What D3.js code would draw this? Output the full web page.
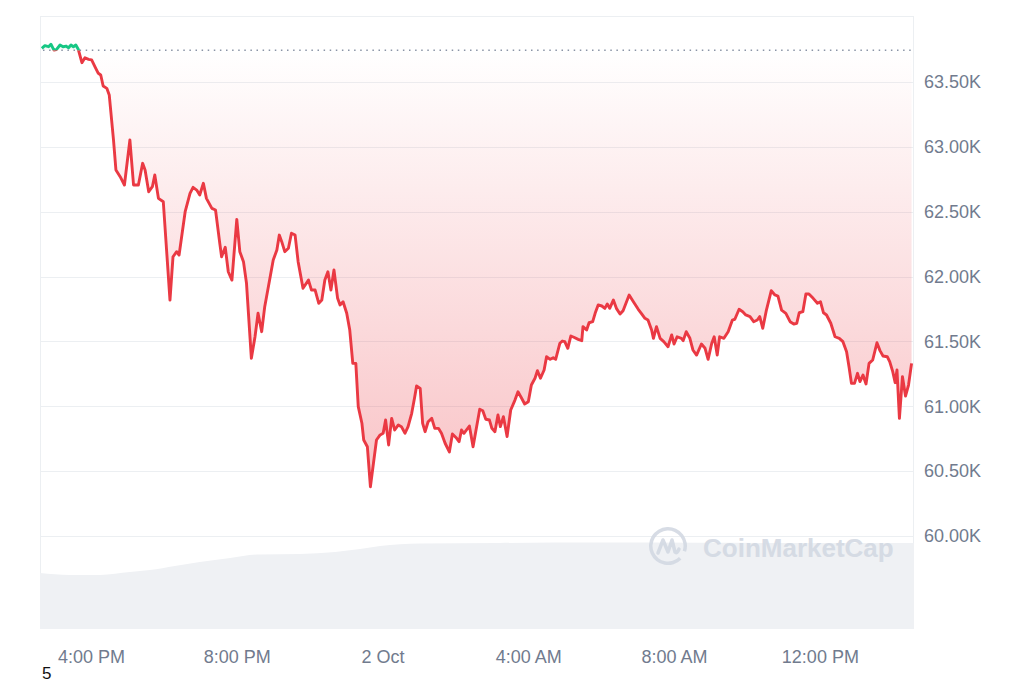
<!DOCTYPE html>
<html>
<head>
<meta charset="utf-8">
<script src="https://cdn.jsdelivr.net/npm/d3@7"></script>
<style>
  body { margin: 0; background: #fff; }
  svg { display: block; font-family: "Liberation Sans", Arial, sans-serif; }
</style>
</head>
<body>
<div id="chart"></div>
<script>
// BTC price, 1 Oct 2024 14:36 -> 2 Oct 2024 14:35
const startTime = new Date(2024, 9, 1, 14, 36);

// minutes after startTime
const minutes = [3,8,14,18,23,27,33,38,43,47,51,55,59,63,69,74,80,85,91,96,
  100,104,110,114,121,125,132,139,148,154,162,169,173,179,185,189,195,203,214,219,
  225,229,239,247,252,258,263,269,274,283,289,296,299,305,310,316,324,329,335,340,
  348,354,359,365,370,373,379,384,390,394,398,403,409,414,420,425,433,442,447,453,
  459,464,469,474,479,484,490,494,499,505,510,515,520,524,530,533,539,544,549,554,
  560,565,569,574,579,584,590,595,601,606,612,617,620,626,630,634,639,645,650,656,
  661,667,674,679,686,690,694,698,707,713,724,729,734,740,744,749,754,758,763,769,
  775,782,787,793,798,804,809,815,819,824,830,834,840,845,849,856,860,864,869,874,
  879,886,892,894,900,904,910,914,919,925,930,934,938,944,949,955,960,970,977,985,
  990,996,1001,1007,1010,1015,1021,1027,1034,1040,1044,1049,1056,1059,1064,1070,1075,1081,1089,1095,
  1100,1106,1110,1115,1119,1126,1133,1140,1144,1151,1157,1162,1169,1175,1181,1185,1190,1196,1204,1210,
  1215,1221,1228,1235,1241,1246,1250,1256,1261,1266,1273,1280,1285,1290,1295,1302,1309,1316,1322,1328,
  1332,1336,1341,1346,1350,1355,1360,1365,1371,1378,1383,1388,1395,1399,1404,1408,1411,1415,1420,1425,
  1430,1435];

const prices = [63760,63780,63772,63791,63746,63750,63785,63772,63777,63764,
  63785,63772,63785,63752,63649,63687,63675,63670,63613,63567,
  63554,63469,63451,63400,63053,62822,62770,62706,63053,62706,
  62706,62873,62822,62654,62693,62783,62603,62577,61819,62153,
  62192,62166,62500,62642,62688,62667,62629,62719,62603,62526,
  62513,62256,62153,62226,62037,61973,62441,62192,62115,61948,
  61370,61536,61717,61575,61768,61845,61999,62128,62205,62320,
  62269,62192,62218,62334,62320,62115,61910,61973,61896,61896,
  61794,61819,61973,62037,61896,62051,61832,61781,61806,61717,
  61588,61331,61331,60997,60869,60740,60688,60380,60560,60740,
  60779,60792,60894,60702,60907,60817,60856,60843,60792,60843,
  60946,61074,61156,61137,60869,60804,60881,60907,60830,60830,
  60792,60715,60648,60786,60753,60727,60817,60792,60848,60688,
  60977,60966,60900,60894,60830,60804,60933,60843,60920,60767,
  60971,61048,61112,61062,61018,61035,61164,61216,61274,61216,
  61280,61382,61362,61375,61362,61486,61503,61498,61447,61542,
  61532,61516,61506,61614,61588,61644,61652,61717,61781,61773,
  61755,61789,61755,61819,61755,61711,61737,61858,61806,61748,
  61717,61678,61665,61588,61524,61614,61524,61498,61459,61550,
  61480,61536,61524,61506,61575,61524,61434,61395,61480,61447,
  61362,61486,61536,61395,61536,61524,61575,61665,61671,61748,
  61729,61704,61691,61652,61665,61691,61601,61742,61891,61858,
  61850,61742,61717,61652,61634,61640,61721,61729,61866,61866,
  61832,61794,61806,61721,61704,61640,61536,61524,61498,61421,
  61305,61177,61177,61254,61190,61241,61172,61331,61357,61490,
  61429,61388,61382,61344,61267,61182,61280,60907,61228,61079,
  61164,61331];

const openPrice = 63744;

// 24h volume (billion USD)
const volMinutes = [0,49,99,148,181,222,263,313,362,428,486,527,560,626,757,922,1086,1251,1439];
const volumes = [26.8,25.9,25.9,27.3,28.2,30.2,32.1,34.0,35.7,35.9,36.9,38.3,39.7,40.9,41.2,41.4,41.3,41.2,41.2];

const yTicks = [60000, 60500, 61000, 61500, 62000, 62500, 63000, 63500];
const xTickTimes = ["2024-10-01T16:00", "2024-10-01T20:00", "2024-10-02T00:00", "2024-10-02T04:00", "2024-10-02T08:00", "2024-10-02T12:00"];
const xTickLabels = ["4:00 PM", "8:00 PM", "2 Oct", "4:00 AM", "8:00 AM", "12:00 PM"];

const W = 1024, H = 683;
const plot = { left: 40, right: 914, top: 16, bottom: 629 };
const red = "#ea3943", green = "#16c784";

const toDate = m => new Date(startTime.getTime() + m * 60000);
const data = minutes.map((m, i) => ({ date: toDate(m), price: prices[i] }));
const volData = volMinutes.map((m, i) => ({ date: toDate(m), vol: volumes[i] }));

const x = d3.scaleTime()
  .domain([startTime, toDate(1439)])
  .range([plot.left, plot.right]);

const y = d3.scaleLinear()
  .domain([60000, 63500])
  .range([536, 82]);

const yVol = d3.scaleLinear()
  .domain([0, 45])
  .range([plot.bottom, plot.bottom - 94]);

const svg = d3.select("#chart").append("svg")
  .attr("width", W)
  .attr("height", H);

const defs = svg.append("defs");
const yOpen = y(openPrice);

defs.append("clipPath").attr("id", "clip-above")
  .append("rect")
  .attr("x", plot.left - 5).attr("y", plot.top)
  .attr("width", plot.right - plot.left + 10).attr("height", yOpen - plot.top);

defs.append("clipPath").attr("id", "clip-below")
  .append("rect")
  .attr("x", plot.left - 5).attr("y", yOpen)
  .attr("width", plot.right - plot.left + 10).attr("height", plot.bottom - yOpen);

const gradRed = defs.append("linearGradient")
  .attr("id", "grad-red")
  .attr("gradientUnits", "userSpaceOnUse")
  .attr("x1", 0).attr("x2", 0)
  .attr("y1", yOpen).attr("y2", y(d3.min(prices)));
gradRed.append("stop").attr("offset", 0).attr("stop-color", red).attr("stop-opacity", 0.0);
gradRed.append("stop").attr("offset", 1).attr("stop-color", red).attr("stop-opacity", 0.3);

const gradGreen = defs.append("linearGradient")
  .attr("id", "grad-green")
  .attr("gradientUnits", "userSpaceOnUse")
  .attr("x1", 0).attr("x2", 0)
  .attr("y1", yOpen).attr("y2", y(d3.max(prices)));
gradGreen.append("stop").attr("offset", 0).attr("stop-color", green).attr("stop-opacity", 0.0);
gradGreen.append("stop").attr("offset", 1).attr("stop-color", green).attr("stop-opacity", 0.2);

// frame
const frame = svg.append("g").attr("stroke", "#eceff2").attr("stroke-width", 1);
frame.append("line").attr("x1", plot.left).attr("x2", plot.right).attr("y1", plot.top + 0.5).attr("y2", plot.top + 0.5);
frame.append("line").attr("x1", plot.left + 0.5).attr("x2", plot.left + 0.5).attr("y1", plot.top).attr("y2", plot.bottom);
frame.append("line").attr("x1", plot.right - 0.5).attr("x2", plot.right - 0.5).attr("y1", plot.top).attr("y2", plot.bottom);

// gridlines
svg.append("g")
  .selectAll("line")
  .data(yTicks)
  .join("line")
  .attr("x1", plot.left).attr("x2", plot.right)
  .attr("y1", d => Math.round(y(d)) + 0.5).attr("y2", d => Math.round(y(d)) + 0.5)
  .attr("stroke", "#eceff2");

// volume
svg.append("path")
  .datum(volData)
  .attr("fill", "#eff1f4")
  .attr("d", d3.area()
    .x(d => x(d.date))
    .y0(plot.bottom)
    .y1(d => yVol(d.vol))
    .curve(d3.curveMonotoneX));

// watermark
const wm = svg.append("g").attr("opacity", 0.9);
wm.append("path")
  .attr("d", d3.arc()({ innerRadius: 15.5, outerRadius: 19, startAngle: 0.75 * Math.PI, endAngle: 2.6 * Math.PI }))
  .attr("transform", "translate(668,546)")
  .attr("fill", "#d3d9e3");
wm.append("path")
  .attr("d", "M658,553 L663,540 L668,552 L672,540 L675,552 Q677,554 679,549")
  .attr("fill", "none")
  .attr("stroke", "#d3d9e3")
  .attr("stroke-width", 3.5)
  .attr("stroke-linejoin", "round")
  .attr("stroke-linecap", "round");
wm.append("text")
  .attr("x", 703).attr("y", 557)
  .attr("font-size", 26)
  .attr("font-weight", "bold")
  .attr("fill", "#d3d9e3")
  .text("CoinMarketCap");

// fill between open price and line
const area = d3.area()
  .x(d => x(d.date))
  .y0(yOpen)
  .y1(d => y(d.price));

svg.append("path").datum(data)
  .attr("clip-path", "url(#clip-below)")
  .attr("fill", "url(#grad-red)")
  .attr("d", area);

svg.append("path").datum(data)
  .attr("clip-path", "url(#clip-above)")
  .attr("fill", "url(#grad-green)")
  .attr("d", area);

// open price dotted line
svg.append("line")
  .attr("x1", plot.left + 3).attr("x2", plot.right)
  .attr("y1", yOpen).attr("y2", yOpen)
  .attr("stroke", "#8a94a6")
  .attr("stroke-width", 1.5)
  .attr("stroke-dasharray", "1.5,4.6");

// price line
const line = d3.line()
  .x(d => x(d.date))
  .y(d => y(d.price));

svg.append("path").datum(data)
  .attr("clip-path", "url(#clip-below)")
  .attr("fill", "none")
  .attr("stroke", red)
  .attr("stroke-width", 2.9)
  .attr("stroke-linejoin", "round")
  .attr("d", line);

svg.append("path").datum(data)
  .attr("clip-path", "url(#clip-above)")
  .attr("fill", "none")
  .attr("stroke", green)
  .attr("stroke-width", 2.9)
  .attr("stroke-linejoin", "round")
  .attr("d", line);

// axes
const yAxis = svg.append("g")
  .attr("transform", `translate(${plot.right},0)`)
  .call(d3.axisRight(y)
    .tickValues(yTicks)
    .tickSize(0)
    .tickPadding(10)
    .tickFormat(d => (d / 1000).toFixed(2) + "K"));
yAxis.select(".domain").remove();
yAxis.selectAll("text")
  .attr("font-size", 18)
  .attr("font-family", "Liberation Sans, Arial, sans-serif")
  .attr("fill", "#717b8e");

const xAxis = svg.append("g")
  .attr("transform", `translate(0,${plot.bottom})`)
  .call(d3.axisBottom(x)
    .tickValues(xTickTimes.map(t => new Date(t)))
    .tickSize(0)
    .tickPadding(21)
    .tickFormat((d, i) => xTickLabels[i]));
xAxis.select(".domain").remove();
xAxis.selectAll("text")
  .attr("font-size", 18)
  .attr("font-family", "Liberation Sans, Arial, sans-serif")
  .attr("fill", "#717b8e");

svg.append("text")
  .attr("x", 42).attr("y", 679)
  .attr("font-size", 17)
  .attr("fill", "#111")
  .text("5");
</script>
</body>
</html>
